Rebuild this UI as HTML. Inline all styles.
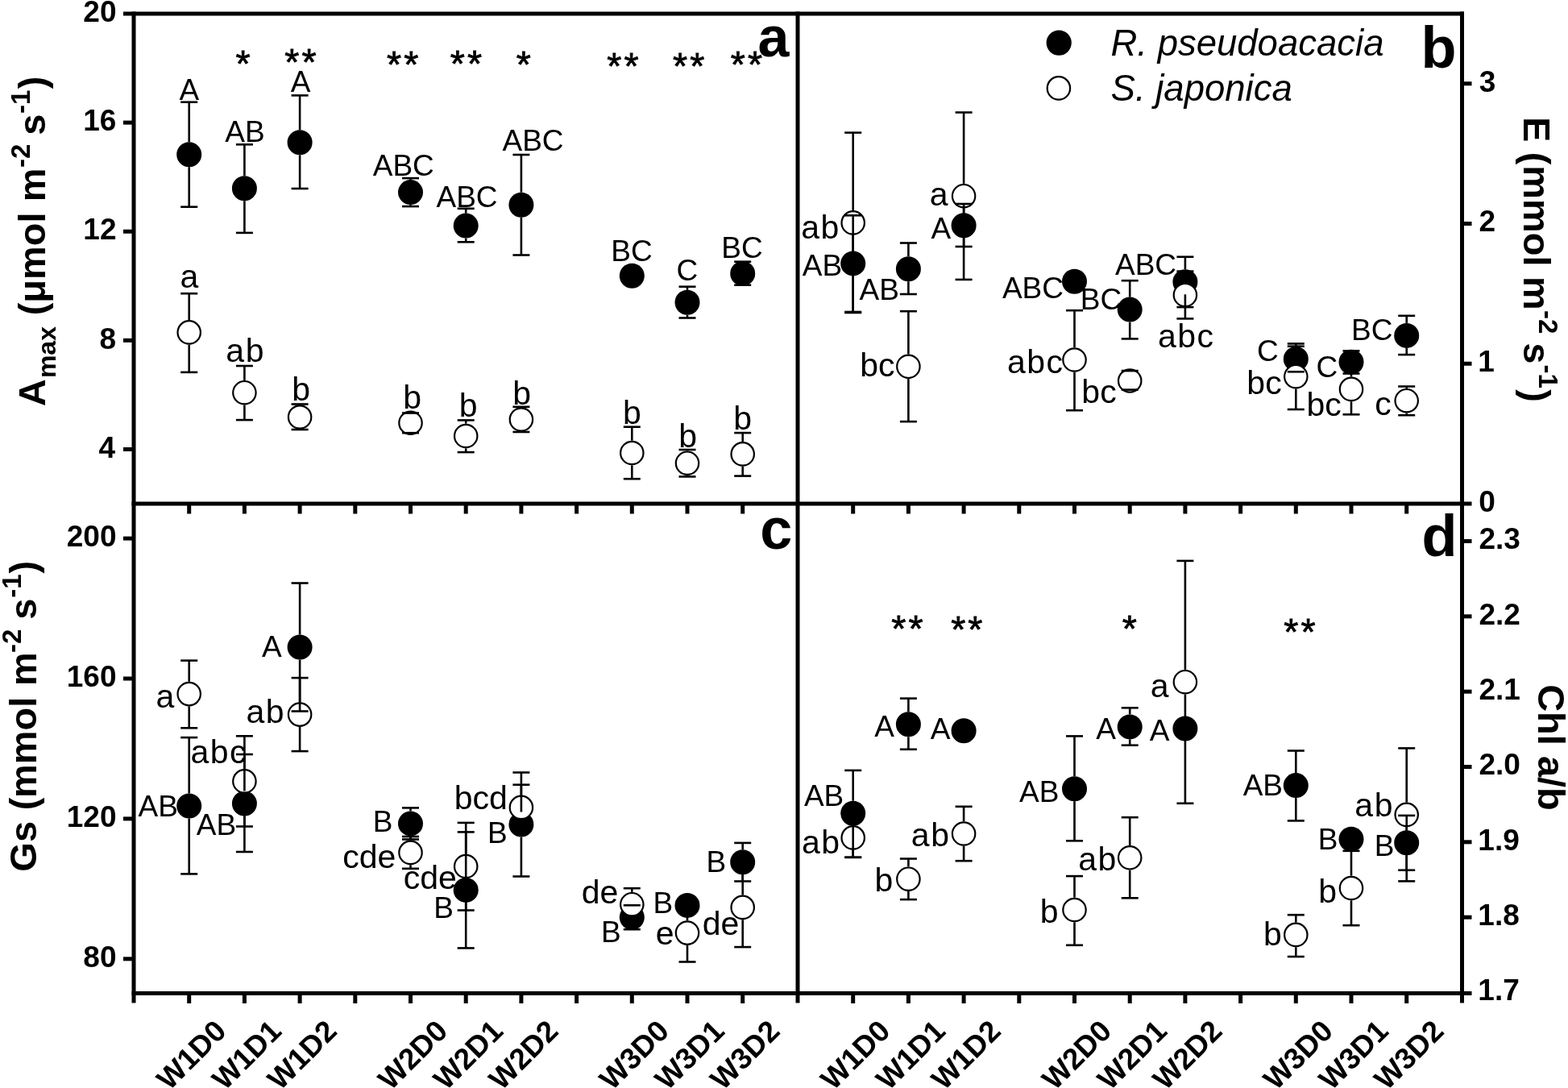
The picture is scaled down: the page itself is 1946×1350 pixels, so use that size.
<!DOCTYPE html>
<html><head><meta charset="utf-8"><title>Figure</title>
<style>html,body{margin:0;padding:0;background:#fff;}svg{display:block;}</style></head>
<body><svg width="1946" height="1350" viewBox="0 0 1946 1350" font-family="'Liberation Sans', sans-serif">
<rect width="1946" height="1350" fill="#fff"/>
<g stroke="#000" stroke-linecap="butt" fill="none">
<line x1="166.00" y1="14.50" x2="166.00" y2="1244.50" stroke-width="5.0"/>
<line x1="990.00" y1="14.50" x2="990.00" y2="1244.50" stroke-width="5.0"/>
<line x1="1814.50" y1="14.50" x2="1814.50" y2="1244.50" stroke-width="5.0"/>
<line x1="153.00" y1="17.00" x2="1817.00" y2="17.00" stroke-width="5.0"/>
<line x1="163.50" y1="625.00" x2="1826.50" y2="625.00" stroke-width="5.0"/>
<line x1="163.50" y1="1232.50" x2="1826.50" y2="1232.50" stroke-width="5.0"/>
<line x1="234.70" y1="625.00" x2="234.70" y2="637.50" stroke-width="5.0"/>
<line x1="234.70" y1="1232.50" x2="234.70" y2="1245.00" stroke-width="5.0"/>
<line x1="303.40" y1="625.00" x2="303.40" y2="637.50" stroke-width="5.0"/>
<line x1="303.40" y1="1232.50" x2="303.40" y2="1245.00" stroke-width="5.0"/>
<line x1="372.10" y1="625.00" x2="372.10" y2="637.50" stroke-width="5.0"/>
<line x1="372.10" y1="1232.50" x2="372.10" y2="1245.00" stroke-width="5.0"/>
<line x1="440.80" y1="625.00" x2="440.80" y2="637.50" stroke-width="5.0"/>
<line x1="440.80" y1="1232.50" x2="440.80" y2="1245.00" stroke-width="5.0"/>
<line x1="509.50" y1="625.00" x2="509.50" y2="637.50" stroke-width="5.0"/>
<line x1="509.50" y1="1232.50" x2="509.50" y2="1245.00" stroke-width="5.0"/>
<line x1="578.20" y1="625.00" x2="578.20" y2="637.50" stroke-width="5.0"/>
<line x1="578.20" y1="1232.50" x2="578.20" y2="1245.00" stroke-width="5.0"/>
<line x1="646.90" y1="625.00" x2="646.90" y2="637.50" stroke-width="5.0"/>
<line x1="646.90" y1="1232.50" x2="646.90" y2="1245.00" stroke-width="5.0"/>
<line x1="715.60" y1="625.00" x2="715.60" y2="637.50" stroke-width="5.0"/>
<line x1="715.60" y1="1232.50" x2="715.60" y2="1245.00" stroke-width="5.0"/>
<line x1="784.30" y1="625.00" x2="784.30" y2="637.50" stroke-width="5.0"/>
<line x1="784.30" y1="1232.50" x2="784.30" y2="1245.00" stroke-width="5.0"/>
<line x1="853.00" y1="625.00" x2="853.00" y2="637.50" stroke-width="5.0"/>
<line x1="853.00" y1="1232.50" x2="853.00" y2="1245.00" stroke-width="5.0"/>
<line x1="921.70" y1="625.00" x2="921.70" y2="637.50" stroke-width="5.0"/>
<line x1="921.70" y1="1232.50" x2="921.70" y2="1245.00" stroke-width="5.0"/>
<line x1="1058.70" y1="625.00" x2="1058.70" y2="637.50" stroke-width="5.0"/>
<line x1="1058.70" y1="1232.50" x2="1058.70" y2="1245.00" stroke-width="5.0"/>
<line x1="1127.40" y1="625.00" x2="1127.40" y2="637.50" stroke-width="5.0"/>
<line x1="1127.40" y1="1232.50" x2="1127.40" y2="1245.00" stroke-width="5.0"/>
<line x1="1196.10" y1="625.00" x2="1196.10" y2="637.50" stroke-width="5.0"/>
<line x1="1196.10" y1="1232.50" x2="1196.10" y2="1245.00" stroke-width="5.0"/>
<line x1="1264.80" y1="625.00" x2="1264.80" y2="637.50" stroke-width="5.0"/>
<line x1="1264.80" y1="1232.50" x2="1264.80" y2="1245.00" stroke-width="5.0"/>
<line x1="1333.50" y1="625.00" x2="1333.50" y2="637.50" stroke-width="5.0"/>
<line x1="1333.50" y1="1232.50" x2="1333.50" y2="1245.00" stroke-width="5.0"/>
<line x1="1402.20" y1="625.00" x2="1402.20" y2="637.50" stroke-width="5.0"/>
<line x1="1402.20" y1="1232.50" x2="1402.20" y2="1245.00" stroke-width="5.0"/>
<line x1="1470.90" y1="625.00" x2="1470.90" y2="637.50" stroke-width="5.0"/>
<line x1="1470.90" y1="1232.50" x2="1470.90" y2="1245.00" stroke-width="5.0"/>
<line x1="1539.60" y1="625.00" x2="1539.60" y2="637.50" stroke-width="5.0"/>
<line x1="1539.60" y1="1232.50" x2="1539.60" y2="1245.00" stroke-width="5.0"/>
<line x1="1608.30" y1="625.00" x2="1608.30" y2="637.50" stroke-width="5.0"/>
<line x1="1608.30" y1="1232.50" x2="1608.30" y2="1245.00" stroke-width="5.0"/>
<line x1="1677.00" y1="625.00" x2="1677.00" y2="637.50" stroke-width="5.0"/>
<line x1="1677.00" y1="1232.50" x2="1677.00" y2="1245.00" stroke-width="5.0"/>
<line x1="1745.70" y1="625.00" x2="1745.70" y2="637.50" stroke-width="5.0"/>
<line x1="1745.70" y1="1232.50" x2="1745.70" y2="1245.00" stroke-width="5.0"/>
<line x1="153.00" y1="152.12" x2="166.00" y2="152.12" stroke-width="5.0"/>
<line x1="153.00" y1="287.24" x2="166.00" y2="287.24" stroke-width="5.0"/>
<line x1="153.00" y1="422.36" x2="166.00" y2="422.36" stroke-width="5.0"/>
<line x1="153.00" y1="557.48" x2="166.00" y2="557.48" stroke-width="5.0"/>
<line x1="153.00" y1="668.10" x2="166.00" y2="668.10" stroke-width="5.0"/>
<line x1="153.00" y1="842.00" x2="166.00" y2="842.00" stroke-width="5.0"/>
<line x1="153.00" y1="1015.90" x2="166.00" y2="1015.90" stroke-width="5.0"/>
<line x1="153.00" y1="1189.80" x2="166.00" y2="1189.80" stroke-width="5.0"/>
<line x1="1814.50" y1="103.75" x2="1826.50" y2="103.75" stroke-width="5.0"/>
<line x1="1814.50" y1="277.50" x2="1826.50" y2="277.50" stroke-width="5.0"/>
<line x1="1814.50" y1="451.25" x2="1826.50" y2="451.25" stroke-width="5.0"/>
<line x1="1814.50" y1="671.50" x2="1826.50" y2="671.50" stroke-width="5.0"/>
<line x1="1814.50" y1="764.83" x2="1826.50" y2="764.83" stroke-width="5.0"/>
<line x1="1814.50" y1="858.16" x2="1826.50" y2="858.16" stroke-width="5.0"/>
<line x1="1814.50" y1="951.49" x2="1826.50" y2="951.49" stroke-width="5.0"/>
<line x1="1814.50" y1="1044.82" x2="1826.50" y2="1044.82" stroke-width="5.0"/>
<line x1="1814.50" y1="1138.15" x2="1826.50" y2="1138.15" stroke-width="5.0"/>
</g>
<g font-family="'Liberation Sans', sans-serif" fill="#000">
<text x="103.36" y="27.20" font-size="37" font-weight="bold">20</text>
<text x="103.18" y="162.32" font-size="37" font-weight="bold">16</text>
<text x="103.33" y="297.44" font-size="37" font-weight="bold">12</text>
<text x="123.56" y="432.56" font-size="37" font-weight="bold">8</text>
<text x="122.62" y="567.68" font-size="37" font-weight="bold">4</text>
<text x="82.78" y="678.30" font-size="37" font-weight="bold">200</text>
<text x="82.78" y="852.20" font-size="37" font-weight="bold">160</text>
<text x="82.78" y="1026.10" font-size="37" font-weight="bold">120</text>
<text x="103.36" y="1200.00" font-size="37" font-weight="bold">80</text>
<text x="1835.85" y="113.65" font-size="37" font-weight="bold">3</text>
<text x="1835.42" y="287.40" font-size="37" font-weight="bold">2</text>
<text x="1834.37" y="461.15" font-size="37" font-weight="bold">1</text>
<text x="1835.24" y="634.90" font-size="37" font-weight="bold">0</text>
<text x="1835.42" y="681.40" font-size="37" font-weight="bold">2.3</text>
<text x="1835.42" y="774.73" font-size="37" font-weight="bold">2.2</text>
<text x="1835.42" y="868.06" font-size="37" font-weight="bold">2.1</text>
<text x="1835.42" y="961.39" font-size="37" font-weight="bold">2.0</text>
<text x="1834.37" y="1054.72" font-size="37" font-weight="bold">1.9</text>
<text x="1834.37" y="1148.05" font-size="37" font-weight="bold">1.8</text>
<text x="1834.37" y="1241.38" font-size="37" font-weight="bold">1.7</text>
<text x="0" y="0" font-size="37" font-weight="bold" text-anchor="end" transform="translate(282.70,1281.50) rotate(-45)">W1D0</text>
<text x="0" y="0" font-size="37" font-weight="bold" text-anchor="end" transform="translate(351.40,1281.50) rotate(-45)">W1D1</text>
<text x="0" y="0" font-size="37" font-weight="bold" text-anchor="end" transform="translate(420.10,1281.50) rotate(-45)">W1D2</text>
<text x="0" y="0" font-size="37" font-weight="bold" text-anchor="end" transform="translate(557.50,1281.50) rotate(-45)">W2D0</text>
<text x="0" y="0" font-size="37" font-weight="bold" text-anchor="end" transform="translate(626.20,1281.50) rotate(-45)">W2D1</text>
<text x="0" y="0" font-size="37" font-weight="bold" text-anchor="end" transform="translate(694.90,1281.50) rotate(-45)">W2D2</text>
<text x="0" y="0" font-size="37" font-weight="bold" text-anchor="end" transform="translate(832.30,1281.50) rotate(-45)">W3D0</text>
<text x="0" y="0" font-size="37" font-weight="bold" text-anchor="end" transform="translate(901.00,1281.50) rotate(-45)">W3D1</text>
<text x="0" y="0" font-size="37" font-weight="bold" text-anchor="end" transform="translate(969.70,1281.50) rotate(-45)">W3D2</text>
<text x="0" y="0" font-size="37" font-weight="bold" text-anchor="end" transform="translate(1106.70,1281.50) rotate(-45)">W1D0</text>
<text x="0" y="0" font-size="37" font-weight="bold" text-anchor="end" transform="translate(1175.40,1281.50) rotate(-45)">W1D1</text>
<text x="0" y="0" font-size="37" font-weight="bold" text-anchor="end" transform="translate(1244.10,1281.50) rotate(-45)">W1D2</text>
<text x="0" y="0" font-size="37" font-weight="bold" text-anchor="end" transform="translate(1381.50,1281.50) rotate(-45)">W2D0</text>
<text x="0" y="0" font-size="37" font-weight="bold" text-anchor="end" transform="translate(1450.20,1281.50) rotate(-45)">W2D1</text>
<text x="0" y="0" font-size="37" font-weight="bold" text-anchor="end" transform="translate(1518.90,1281.50) rotate(-45)">W2D2</text>
<text x="0" y="0" font-size="37" font-weight="bold" text-anchor="end" transform="translate(1656.30,1281.50) rotate(-45)">W3D0</text>
<text x="0" y="0" font-size="37" font-weight="bold" text-anchor="end" transform="translate(1725.00,1281.50) rotate(-45)">W3D1</text>
<text x="0" y="0" font-size="37" font-weight="bold" text-anchor="end" transform="translate(1793.70,1281.50) rotate(-45)">W3D2</text>
</g>
<circle cx="234.70" cy="191.70" r="15.5" fill="#000"/>
<circle cx="303.40" cy="233.70" r="15.5" fill="#000"/>
<circle cx="372.10" cy="176.80" r="15.5" fill="#000"/>
<circle cx="509.50" cy="238.60" r="15.5" fill="#000"/>
<circle cx="578.20" cy="280.10" r="15.5" fill="#000"/>
<circle cx="646.90" cy="254.20" r="15.5" fill="#000"/>
<circle cx="784.30" cy="342.20" r="15.5" fill="#000"/>
<circle cx="853.00" cy="375.30" r="15.5" fill="#000"/>
<circle cx="921.70" cy="339.40" r="15.5" fill="#000"/>
<circle cx="234.70" cy="412.40" r="14.2" fill="#fff" stroke="#000" stroke-width="2.2"/>
<circle cx="303.40" cy="487.20" r="14.2" fill="#fff" stroke="#000" stroke-width="2.2"/>
<circle cx="372.10" cy="517.50" r="14.2" fill="#fff" stroke="#000" stroke-width="2.2"/>
<circle cx="509.50" cy="524.80" r="14.2" fill="#fff" stroke="#000" stroke-width="2.2"/>
<circle cx="578.20" cy="541.00" r="14.2" fill="#fff" stroke="#000" stroke-width="2.2"/>
<circle cx="646.90" cy="520.50" r="14.2" fill="#fff" stroke="#000" stroke-width="2.2"/>
<circle cx="784.30" cy="562.00" r="14.2" fill="#fff" stroke="#000" stroke-width="2.2"/>
<circle cx="853.00" cy="574.70" r="14.2" fill="#fff" stroke="#000" stroke-width="2.2"/>
<circle cx="921.70" cy="563.40" r="14.2" fill="#fff" stroke="#000" stroke-width="2.2"/>
<g stroke="#000" stroke-width="2.6">
<line x1="234.70" y1="126.70" x2="234.70" y2="176.20"/>
<line x1="234.70" y1="207.20" x2="234.70" y2="256.70"/>
<line x1="224.20" y1="126.70" x2="245.20" y2="126.70"/>
<line x1="224.20" y1="256.70" x2="245.20" y2="256.70"/>
<line x1="234.70" y1="364.20" x2="234.70" y2="397.10"/>
<line x1="234.70" y1="427.70" x2="234.70" y2="461.90"/>
<line x1="224.20" y1="364.20" x2="245.20" y2="364.20"/>
<line x1="224.20" y1="461.90" x2="245.20" y2="461.90"/>
<line x1="303.40" y1="179.30" x2="303.40" y2="218.20"/>
<line x1="303.40" y1="249.20" x2="303.40" y2="288.90"/>
<line x1="292.90" y1="179.30" x2="313.90" y2="179.30"/>
<line x1="292.90" y1="288.90" x2="313.90" y2="288.90"/>
<line x1="303.40" y1="454.00" x2="303.40" y2="471.90"/>
<line x1="303.40" y1="502.50" x2="303.40" y2="521.10"/>
<line x1="292.90" y1="454.00" x2="313.90" y2="454.00"/>
<line x1="292.90" y1="521.10" x2="313.90" y2="521.10"/>
<line x1="372.10" y1="118.40" x2="372.10" y2="161.30"/>
<line x1="372.10" y1="192.30" x2="372.10" y2="234.00"/>
<line x1="361.60" y1="118.40" x2="382.60" y2="118.40"/>
<line x1="361.60" y1="234.00" x2="382.60" y2="234.00"/>
<line x1="372.10" y1="501.50" x2="372.10" y2="502.20"/>
<line x1="372.10" y1="532.80" x2="372.10" y2="533.00"/>
<line x1="361.60" y1="501.50" x2="382.60" y2="501.50"/>
<line x1="361.60" y1="533.00" x2="382.60" y2="533.00"/>
<line x1="509.50" y1="221.10" x2="509.50" y2="223.10"/>
<line x1="509.50" y1="254.10" x2="509.50" y2="256.10"/>
<line x1="499.00" y1="221.10" x2="520.00" y2="221.10"/>
<line x1="499.00" y1="256.10" x2="520.00" y2="256.10"/>
<line x1="499.00" y1="512.50" x2="520.00" y2="512.50"/>
<line x1="499.00" y1="537.20" x2="520.00" y2="537.20"/>
<line x1="578.20" y1="258.80" x2="578.20" y2="264.60"/>
<line x1="578.20" y1="295.60" x2="578.20" y2="300.30"/>
<line x1="567.70" y1="258.80" x2="588.70" y2="258.80"/>
<line x1="567.70" y1="300.30" x2="588.70" y2="300.30"/>
<line x1="578.20" y1="521.40" x2="578.20" y2="525.70"/>
<line x1="578.20" y1="556.30" x2="578.20" y2="561.10"/>
<line x1="567.70" y1="521.40" x2="588.70" y2="521.40"/>
<line x1="567.70" y1="561.10" x2="588.70" y2="561.10"/>
<line x1="646.90" y1="192.00" x2="646.90" y2="238.70"/>
<line x1="646.90" y1="269.70" x2="646.90" y2="316.50"/>
<line x1="636.40" y1="192.00" x2="657.40" y2="192.00"/>
<line x1="636.40" y1="316.50" x2="657.40" y2="316.50"/>
<line x1="646.90" y1="504.80" x2="646.90" y2="505.20"/>
<line x1="646.90" y1="535.80" x2="646.90" y2="536.00"/>
<line x1="636.40" y1="504.80" x2="657.40" y2="504.80"/>
<line x1="636.40" y1="536.00" x2="657.40" y2="536.00"/>
<line x1="784.30" y1="529.70" x2="784.30" y2="546.70"/>
<line x1="784.30" y1="577.30" x2="784.30" y2="594.20"/>
<line x1="773.80" y1="529.70" x2="794.80" y2="529.70"/>
<line x1="773.80" y1="594.20" x2="794.80" y2="594.20"/>
<line x1="853.00" y1="355.70" x2="853.00" y2="359.80"/>
<line x1="853.00" y1="390.80" x2="853.00" y2="394.50"/>
<line x1="842.50" y1="355.70" x2="863.50" y2="355.70"/>
<line x1="842.50" y1="394.50" x2="863.50" y2="394.50"/>
<line x1="853.00" y1="558.00" x2="853.00" y2="559.40"/>
<line x1="853.00" y1="590.00" x2="853.00" y2="591.40"/>
<line x1="842.50" y1="558.00" x2="863.50" y2="558.00"/>
<line x1="842.50" y1="591.40" x2="863.50" y2="591.40"/>
<line x1="911.20" y1="324.70" x2="932.20" y2="324.70"/>
<line x1="911.20" y1="353.70" x2="932.20" y2="353.70"/>
<line x1="921.70" y1="537.10" x2="921.70" y2="548.10"/>
<line x1="921.70" y1="578.70" x2="921.70" y2="590.60"/>
<line x1="911.20" y1="537.10" x2="932.20" y2="537.10"/>
<line x1="911.20" y1="590.60" x2="932.20" y2="590.60"/>
</g>
<circle cx="1058.70" cy="326.90" r="15.5" fill="#000"/>
<circle cx="1127.40" cy="333.70" r="15.5" fill="#000"/>
<circle cx="1196.10" cy="279.70" r="15.5" fill="#000"/>
<circle cx="1333.50" cy="349.20" r="15.5" fill="#000"/>
<circle cx="1402.20" cy="384.10" r="15.5" fill="#000"/>
<circle cx="1470.90" cy="349.80" r="15.5" fill="#000"/>
<circle cx="1608.30" cy="445.50" r="15.5" fill="#000"/>
<circle cx="1677.00" cy="449.30" r="15.5" fill="#000"/>
<circle cx="1745.70" cy="416.40" r="15.5" fill="#000"/>
<circle cx="1058.70" cy="276.40" r="14.2" fill="#fff" stroke="#000" stroke-width="2.2"/>
<circle cx="1127.40" cy="454.80" r="14.2" fill="#fff" stroke="#000" stroke-width="2.2"/>
<circle cx="1196.10" cy="243.20" r="14.2" fill="#fff" stroke="#000" stroke-width="2.2"/>
<circle cx="1333.50" cy="446.50" r="14.2" fill="#fff" stroke="#000" stroke-width="2.2"/>
<circle cx="1402.20" cy="472.50" r="14.2" fill="#fff" stroke="#000" stroke-width="2.2"/>
<circle cx="1470.90" cy="366.00" r="14.2" fill="#fff" stroke="#000" stroke-width="2.2"/>
<circle cx="1608.30" cy="467.20" r="14.2" fill="#fff" stroke="#000" stroke-width="2.2"/>
<circle cx="1677.00" cy="482.90" r="14.2" fill="#fff" stroke="#000" stroke-width="2.2"/>
<circle cx="1745.70" cy="497.20" r="14.2" fill="#fff" stroke="#000" stroke-width="2.2"/>
<g stroke="#000" stroke-width="2.6">
<line x1="1058.70" y1="267.30" x2="1058.70" y2="311.40"/>
<line x1="1058.70" y1="342.40" x2="1058.70" y2="387.00"/>
<line x1="1048.20" y1="267.30" x2="1069.20" y2="267.30"/>
<line x1="1048.20" y1="387.00" x2="1069.20" y2="387.00"/>
<line x1="1058.70" y1="164.60" x2="1058.70" y2="261.10"/>
<line x1="1058.70" y1="291.70" x2="1058.70" y2="388.00"/>
<line x1="1048.20" y1="164.60" x2="1069.20" y2="164.60"/>
<line x1="1048.20" y1="388.00" x2="1069.20" y2="388.00"/>
<line x1="1127.40" y1="301.50" x2="1127.40" y2="318.20"/>
<line x1="1127.40" y1="349.20" x2="1127.40" y2="365.00"/>
<line x1="1116.90" y1="301.50" x2="1137.90" y2="301.50"/>
<line x1="1116.90" y1="365.00" x2="1137.90" y2="365.00"/>
<line x1="1127.40" y1="386.20" x2="1127.40" y2="439.50"/>
<line x1="1127.40" y1="470.10" x2="1127.40" y2="523.10"/>
<line x1="1116.90" y1="386.20" x2="1137.90" y2="386.20"/>
<line x1="1116.90" y1="523.10" x2="1137.90" y2="523.10"/>
<line x1="1196.10" y1="253.00" x2="1196.10" y2="264.20"/>
<line x1="1196.10" y1="295.20" x2="1196.10" y2="306.00"/>
<line x1="1185.60" y1="253.00" x2="1206.60" y2="253.00"/>
<line x1="1185.60" y1="306.00" x2="1206.60" y2="306.00"/>
<line x1="1196.10" y1="139.50" x2="1196.10" y2="227.90"/>
<line x1="1196.10" y1="258.50" x2="1196.10" y2="346.90"/>
<line x1="1185.60" y1="139.50" x2="1206.60" y2="139.50"/>
<line x1="1185.60" y1="346.90" x2="1206.60" y2="346.90"/>
<line x1="1333.50" y1="385.20" x2="1333.50" y2="431.20"/>
<line x1="1333.50" y1="461.80" x2="1333.50" y2="509.20"/>
<line x1="1323.00" y1="385.20" x2="1344.00" y2="385.20"/>
<line x1="1323.00" y1="509.20" x2="1344.00" y2="509.20"/>
<line x1="1402.20" y1="348.20" x2="1402.20" y2="368.60"/>
<line x1="1402.20" y1="399.60" x2="1402.20" y2="420.40"/>
<line x1="1391.70" y1="348.20" x2="1412.70" y2="348.20"/>
<line x1="1391.70" y1="420.40" x2="1412.70" y2="420.40"/>
<line x1="1391.70" y1="460.10" x2="1412.70" y2="460.10"/>
<line x1="1391.70" y1="483.60" x2="1412.70" y2="483.60"/>
<line x1="1470.90" y1="318.70" x2="1470.90" y2="334.30"/>
<line x1="1470.90" y1="365.30" x2="1470.90" y2="381.10"/>
<line x1="1460.40" y1="318.70" x2="1481.40" y2="318.70"/>
<line x1="1460.40" y1="381.10" x2="1481.40" y2="381.10"/>
<line x1="1470.90" y1="336.60" x2="1470.90" y2="350.70"/>
<line x1="1470.90" y1="381.30" x2="1470.90" y2="395.40"/>
<line x1="1460.40" y1="336.60" x2="1481.40" y2="336.60"/>
<line x1="1460.40" y1="395.40" x2="1481.40" y2="395.40"/>
<line x1="1608.30" y1="429.70" x2="1608.30" y2="430.00"/>
<line x1="1608.30" y1="461.00" x2="1608.30" y2="461.30"/>
<line x1="1597.80" y1="429.70" x2="1618.80" y2="429.70"/>
<line x1="1597.80" y1="461.30" x2="1618.80" y2="461.30"/>
<line x1="1608.30" y1="426.40" x2="1608.30" y2="451.90"/>
<line x1="1608.30" y1="482.50" x2="1608.30" y2="508.00"/>
<line x1="1597.80" y1="426.40" x2="1618.80" y2="426.40"/>
<line x1="1597.80" y1="508.00" x2="1618.80" y2="508.00"/>
<line x1="1666.50" y1="435.40" x2="1687.50" y2="435.40"/>
<line x1="1666.50" y1="463.50" x2="1687.50" y2="463.50"/>
<line x1="1677.00" y1="451.50" x2="1677.00" y2="467.60"/>
<line x1="1677.00" y1="498.20" x2="1677.00" y2="514.30"/>
<line x1="1666.50" y1="451.50" x2="1687.50" y2="451.50"/>
<line x1="1666.50" y1="514.30" x2="1687.50" y2="514.30"/>
<line x1="1745.70" y1="391.80" x2="1745.70" y2="400.90"/>
<line x1="1745.70" y1="431.90" x2="1745.70" y2="440.10"/>
<line x1="1735.20" y1="391.80" x2="1756.20" y2="391.80"/>
<line x1="1735.20" y1="440.10" x2="1756.20" y2="440.10"/>
<line x1="1745.70" y1="479.50" x2="1745.70" y2="481.90"/>
<line x1="1745.70" y1="512.50" x2="1745.70" y2="515.20"/>
<line x1="1735.20" y1="479.50" x2="1756.20" y2="479.50"/>
<line x1="1735.20" y1="515.20" x2="1756.20" y2="515.20"/>
</g>
<circle cx="234.70" cy="1000.00" r="15.5" fill="#000"/>
<circle cx="303.40" cy="997.00" r="15.5" fill="#000"/>
<circle cx="372.10" cy="803.00" r="15.5" fill="#000"/>
<circle cx="509.50" cy="1021.90" r="15.5" fill="#000"/>
<circle cx="578.20" cy="1104.40" r="15.5" fill="#000"/>
<circle cx="646.90" cy="1023.00" r="15.5" fill="#000"/>
<circle cx="784.30" cy="1138.30" r="15.5" fill="#000"/>
<circle cx="853.00" cy="1123.40" r="15.5" fill="#000"/>
<circle cx="921.70" cy="1069.80" r="15.5" fill="#000"/>
<circle cx="234.70" cy="861.10" r="14.2" fill="#fff" stroke="#000" stroke-width="2.2"/>
<circle cx="303.40" cy="969.40" r="14.2" fill="#fff" stroke="#000" stroke-width="2.2"/>
<circle cx="372.10" cy="886.60" r="14.2" fill="#fff" stroke="#000" stroke-width="2.2"/>
<circle cx="509.50" cy="1057.90" r="14.2" fill="#fff" stroke="#000" stroke-width="2.2"/>
<circle cx="578.20" cy="1075.00" r="14.2" fill="#fff" stroke="#000" stroke-width="2.2"/>
<circle cx="646.90" cy="1001.90" r="14.2" fill="#fff" stroke="#000" stroke-width="2.2"/>
<circle cx="784.30" cy="1122.20" r="14.2" fill="#fff" stroke="#000" stroke-width="2.2"/>
<circle cx="853.00" cy="1157.60" r="14.2" fill="#fff" stroke="#000" stroke-width="2.2"/>
<circle cx="921.70" cy="1125.90" r="14.2" fill="#fff" stroke="#000" stroke-width="2.2"/>
<g stroke="#000" stroke-width="2.6">
<line x1="234.70" y1="915.10" x2="234.70" y2="984.50"/>
<line x1="234.70" y1="1015.50" x2="234.70" y2="1084.40"/>
<line x1="224.20" y1="915.10" x2="245.20" y2="915.10"/>
<line x1="224.20" y1="1084.40" x2="245.20" y2="1084.40"/>
<line x1="234.70" y1="819.60" x2="234.70" y2="845.80"/>
<line x1="234.70" y1="876.40" x2="234.70" y2="903.30"/>
<line x1="224.20" y1="819.60" x2="245.20" y2="819.60"/>
<line x1="224.20" y1="903.30" x2="245.20" y2="903.30"/>
<line x1="303.40" y1="936.00" x2="303.40" y2="981.50"/>
<line x1="303.40" y1="1012.50" x2="303.40" y2="1057.00"/>
<line x1="292.90" y1="936.00" x2="313.90" y2="936.00"/>
<line x1="292.90" y1="1057.00" x2="313.90" y2="1057.00"/>
<line x1="303.40" y1="913.30" x2="303.40" y2="954.10"/>
<line x1="303.40" y1="984.70" x2="303.40" y2="1025.50"/>
<line x1="292.90" y1="913.30" x2="313.90" y2="913.30"/>
<line x1="292.90" y1="1025.50" x2="313.90" y2="1025.50"/>
<line x1="372.10" y1="723.50" x2="372.10" y2="787.50"/>
<line x1="372.10" y1="818.50" x2="372.10" y2="882.50"/>
<line x1="361.60" y1="723.50" x2="382.60" y2="723.50"/>
<line x1="361.60" y1="882.50" x2="382.60" y2="882.50"/>
<line x1="372.10" y1="841.10" x2="372.10" y2="871.30"/>
<line x1="372.10" y1="901.90" x2="372.10" y2="932.10"/>
<line x1="361.60" y1="841.10" x2="382.60" y2="841.10"/>
<line x1="361.60" y1="932.10" x2="382.60" y2="932.10"/>
<line x1="509.50" y1="1002.40" x2="509.50" y2="1006.40"/>
<line x1="509.50" y1="1037.40" x2="509.50" y2="1041.50"/>
<line x1="499.00" y1="1002.40" x2="520.00" y2="1002.40"/>
<line x1="499.00" y1="1041.50" x2="520.00" y2="1041.50"/>
<line x1="509.50" y1="1038.00" x2="509.50" y2="1042.60"/>
<line x1="509.50" y1="1073.20" x2="509.50" y2="1077.80"/>
<line x1="499.00" y1="1038.00" x2="520.00" y2="1038.00"/>
<line x1="499.00" y1="1077.80" x2="520.00" y2="1077.80"/>
<line x1="578.20" y1="1032.40" x2="578.20" y2="1088.90"/>
<line x1="578.20" y1="1119.90" x2="578.20" y2="1176.40"/>
<line x1="567.70" y1="1032.40" x2="588.70" y2="1032.40"/>
<line x1="567.70" y1="1176.40" x2="588.70" y2="1176.40"/>
<line x1="578.20" y1="1020.90" x2="578.20" y2="1059.70"/>
<line x1="578.20" y1="1090.30" x2="578.20" y2="1129.50"/>
<line x1="567.70" y1="1020.90" x2="588.70" y2="1020.90"/>
<line x1="567.70" y1="1129.50" x2="588.70" y2="1129.50"/>
<line x1="646.90" y1="958.50" x2="646.90" y2="1007.50"/>
<line x1="646.90" y1="1038.50" x2="646.90" y2="1087.50"/>
<line x1="636.40" y1="958.50" x2="657.40" y2="958.50"/>
<line x1="636.40" y1="1087.50" x2="657.40" y2="1087.50"/>
<line x1="646.90" y1="973.70" x2="646.90" y2="986.60"/>
<line x1="646.90" y1="1017.20" x2="646.90" y2="1030.10"/>
<line x1="636.40" y1="973.70" x2="657.40" y2="973.70"/>
<line x1="636.40" y1="1030.10" x2="657.40" y2="1030.10"/>
<line x1="773.80" y1="1123.30" x2="794.80" y2="1123.30"/>
<line x1="773.80" y1="1153.20" x2="794.80" y2="1153.20"/>
<line x1="784.30" y1="1102.20" x2="784.30" y2="1106.90"/>
<line x1="784.30" y1="1137.50" x2="784.30" y2="1142.20"/>
<line x1="773.80" y1="1102.20" x2="794.80" y2="1102.20"/>
<line x1="773.80" y1="1142.20" x2="794.80" y2="1142.20"/>
<line x1="853.00" y1="1121.70" x2="853.00" y2="1142.30"/>
<line x1="853.00" y1="1172.90" x2="853.00" y2="1193.50"/>
<line x1="842.50" y1="1121.70" x2="863.50" y2="1121.70"/>
<line x1="842.50" y1="1193.50" x2="863.50" y2="1193.50"/>
<line x1="921.70" y1="1045.90" x2="921.70" y2="1054.30"/>
<line x1="921.70" y1="1085.30" x2="921.70" y2="1093.50"/>
<line x1="911.20" y1="1045.90" x2="932.20" y2="1045.90"/>
<line x1="911.20" y1="1093.50" x2="932.20" y2="1093.50"/>
<line x1="921.70" y1="1076.70" x2="921.70" y2="1110.60"/>
<line x1="921.70" y1="1141.20" x2="921.70" y2="1175.10"/>
<line x1="911.20" y1="1076.70" x2="932.20" y2="1076.70"/>
<line x1="911.20" y1="1175.10" x2="932.20" y2="1175.10"/>
</g>
<circle cx="1058.70" cy="1009.20" r="15.5" fill="#000"/>
<circle cx="1127.40" cy="898.80" r="15.5" fill="#000"/>
<circle cx="1196.10" cy="906.80" r="15.5" fill="#000"/>
<circle cx="1333.50" cy="978.70" r="15.5" fill="#000"/>
<circle cx="1402.20" cy="901.90" r="15.5" fill="#000"/>
<circle cx="1470.90" cy="904.00" r="15.5" fill="#000"/>
<circle cx="1608.30" cy="974.60" r="15.5" fill="#000"/>
<circle cx="1677.00" cy="1041.20" r="15.5" fill="#000"/>
<circle cx="1745.70" cy="1045.80" r="15.5" fill="#000"/>
<circle cx="1058.70" cy="1039.40" r="14.2" fill="#fff" stroke="#000" stroke-width="2.2"/>
<circle cx="1127.40" cy="1090.70" r="14.2" fill="#fff" stroke="#000" stroke-width="2.2"/>
<circle cx="1196.10" cy="1034.50" r="14.2" fill="#fff" stroke="#000" stroke-width="2.2"/>
<circle cx="1333.50" cy="1129.00" r="14.2" fill="#fff" stroke="#000" stroke-width="2.2"/>
<circle cx="1402.20" cy="1064.30" r="14.2" fill="#fff" stroke="#000" stroke-width="2.2"/>
<circle cx="1470.90" cy="846.20" r="14.2" fill="#fff" stroke="#000" stroke-width="2.2"/>
<circle cx="1608.30" cy="1159.90" r="14.2" fill="#fff" stroke="#000" stroke-width="2.2"/>
<circle cx="1677.00" cy="1102.00" r="14.2" fill="#fff" stroke="#000" stroke-width="2.2"/>
<circle cx="1745.70" cy="1010.90" r="14.2" fill="#fff" stroke="#000" stroke-width="2.2"/>
<g stroke="#000" stroke-width="2.6">
<line x1="1058.70" y1="955.90" x2="1058.70" y2="993.70"/>
<line x1="1058.70" y1="1024.70" x2="1058.70" y2="1063.70"/>
<line x1="1048.20" y1="955.90" x2="1069.20" y2="955.90"/>
<line x1="1048.20" y1="1063.70" x2="1069.20" y2="1063.70"/>
<line x1="1058.70" y1="1014.90" x2="1058.70" y2="1024.10"/>
<line x1="1058.70" y1="1054.70" x2="1058.70" y2="1063.90"/>
<line x1="1048.20" y1="1014.90" x2="1069.20" y2="1014.90"/>
<line x1="1048.20" y1="1063.90" x2="1069.20" y2="1063.90"/>
<line x1="1127.40" y1="866.60" x2="1127.40" y2="883.30"/>
<line x1="1127.40" y1="914.30" x2="1127.40" y2="929.80"/>
<line x1="1116.90" y1="866.60" x2="1137.90" y2="866.60"/>
<line x1="1116.90" y1="929.80" x2="1137.90" y2="929.80"/>
<line x1="1127.40" y1="1065.50" x2="1127.40" y2="1075.40"/>
<line x1="1127.40" y1="1106.00" x2="1127.40" y2="1116.10"/>
<line x1="1116.90" y1="1065.50" x2="1137.90" y2="1065.50"/>
<line x1="1116.90" y1="1116.10" x2="1137.90" y2="1116.10"/>
<line x1="1196.10" y1="1000.80" x2="1196.10" y2="1019.20"/>
<line x1="1196.10" y1="1049.80" x2="1196.10" y2="1068.20"/>
<line x1="1185.60" y1="1000.80" x2="1206.60" y2="1000.80"/>
<line x1="1185.60" y1="1068.20" x2="1206.60" y2="1068.20"/>
<line x1="1333.50" y1="913.40" x2="1333.50" y2="963.20"/>
<line x1="1333.50" y1="994.20" x2="1333.50" y2="1043.30"/>
<line x1="1323.00" y1="913.40" x2="1344.00" y2="913.40"/>
<line x1="1323.00" y1="1043.30" x2="1344.00" y2="1043.30"/>
<line x1="1333.50" y1="1087.10" x2="1333.50" y2="1113.70"/>
<line x1="1333.50" y1="1144.30" x2="1333.50" y2="1172.80"/>
<line x1="1323.00" y1="1087.10" x2="1344.00" y2="1087.10"/>
<line x1="1323.00" y1="1172.80" x2="1344.00" y2="1172.80"/>
<line x1="1402.20" y1="878.30" x2="1402.20" y2="886.40"/>
<line x1="1402.20" y1="917.40" x2="1402.20" y2="924.70"/>
<line x1="1391.70" y1="878.30" x2="1412.70" y2="878.30"/>
<line x1="1391.70" y1="924.70" x2="1412.70" y2="924.70"/>
<line x1="1402.20" y1="1014.20" x2="1402.20" y2="1049.00"/>
<line x1="1402.20" y1="1079.60" x2="1402.20" y2="1114.30"/>
<line x1="1391.70" y1="1014.20" x2="1412.70" y2="1014.20"/>
<line x1="1391.70" y1="1114.30" x2="1412.70" y2="1114.30"/>
<line x1="1470.90" y1="695.90" x2="1470.90" y2="830.90"/>
<line x1="1470.90" y1="861.50" x2="1470.90" y2="996.80"/>
<line x1="1460.40" y1="695.90" x2="1481.40" y2="695.90"/>
<line x1="1460.40" y1="996.80" x2="1481.40" y2="996.80"/>
<line x1="1608.30" y1="931.50" x2="1608.30" y2="959.10"/>
<line x1="1608.30" y1="990.10" x2="1608.30" y2="1018.40"/>
<line x1="1597.80" y1="931.50" x2="1618.80" y2="931.50"/>
<line x1="1597.80" y1="1018.40" x2="1618.80" y2="1018.40"/>
<line x1="1608.30" y1="1135.20" x2="1608.30" y2="1144.60"/>
<line x1="1608.30" y1="1175.20" x2="1608.30" y2="1187.00"/>
<line x1="1597.80" y1="1135.20" x2="1618.80" y2="1135.20"/>
<line x1="1597.80" y1="1187.00" x2="1618.80" y2="1187.00"/>
<line x1="1677.00" y1="1055.80" x2="1677.00" y2="1086.70"/>
<line x1="1677.00" y1="1117.30" x2="1677.00" y2="1148.20"/>
<line x1="1666.50" y1="1055.80" x2="1687.50" y2="1055.80"/>
<line x1="1666.50" y1="1148.20" x2="1687.50" y2="1148.20"/>
<line x1="1745.70" y1="1011.90" x2="1745.70" y2="1030.30"/>
<line x1="1745.70" y1="1061.30" x2="1745.70" y2="1079.70"/>
<line x1="1735.20" y1="1011.90" x2="1756.20" y2="1011.90"/>
<line x1="1735.20" y1="1079.70" x2="1756.20" y2="1079.70"/>
<line x1="1745.70" y1="928.40" x2="1745.70" y2="995.60"/>
<line x1="1745.70" y1="1026.20" x2="1745.70" y2="1093.40"/>
<line x1="1735.20" y1="928.40" x2="1756.20" y2="928.40"/>
<line x1="1735.20" y1="1093.40" x2="1756.20" y2="1093.40"/>
</g>
<g font-family="'Liberation Sans', sans-serif" fill="#000">
<text x="222.56" y="124.40" font-size="37">A</text>
<text x="279.23" y="176.20" font-size="37">AB</text>
<text x="360.86" y="114.40" font-size="37">A</text>
<text x="462.73" y="218.40" font-size="37">ABC</text>
<text x="541.53" y="256.80" font-size="37">ABC</text>
<text x="623.53" y="187.30" font-size="37">ABC</text>
<text x="758.26" y="323.60" font-size="37">BC</text>
<text x="839.61" y="348.10" font-size="37">C</text>
<text x="895.26" y="320.00" font-size="37">BC</text>
<text x="223.43" y="356.90" font-size="41">a</text>
<text x="280.36" y="449.30" font-size="41" letter-spacing="1.5">ab</text>
<text x="362.14" y="496.70" font-size="41">b</text>
<text x="500.34" y="507.30" font-size="41">b</text>
<text x="569.64" y="517.20" font-size="41">b</text>
<text x="636.14" y="501.50" font-size="41">b</text>
<text x="772.94" y="525.80" font-size="41">b</text>
<text x="842.34" y="554.60" font-size="41">b</text>
<text x="910.14" y="532.90" font-size="41">b</text>
<text x="994.16" y="296.00" font-size="41" letter-spacing="1.5">ab</text>
<text x="995.83" y="341.60" font-size="37">AB</text>
<text x="1066.53" y="371.50" font-size="37">AB</text>
<text x="1067.16" y="467.00" font-size="41">bc</text>
<text x="1153.76" y="255.20" font-size="41">a</text>
<text x="1155.43" y="296.00" font-size="37">A</text>
<text x="1243.93" y="369.50" font-size="37">ABC</text>
<text x="1249.96" y="462.90" font-size="41" letter-spacing="1.5">abc</text>
<text x="1340.76" y="384.30" font-size="37">BC</text>
<text x="1342.36" y="500.10" font-size="41">bc</text>
<text x="1384.03" y="340.90" font-size="37">ABC</text>
<text x="1436.96" y="431.20" font-size="41" letter-spacing="1.5">abc</text>
<text x="1560.12" y="447.50" font-size="37">C</text>
<text x="1547.36" y="488.90" font-size="41">bc</text>
<text x="1633.62" y="468.20" font-size="37">C</text>
<text x="1621.56" y="516.30" font-size="41">bc</text>
<text x="1676.96" y="422.10" font-size="37">BC</text>
<text x="1706.26" y="515.20" font-size="41">c</text>
<text x="193.56" y="877.80" font-size="41">a</text>
<text x="171.53" y="1013.30" font-size="37">AB</text>
<text x="236.46" y="947.10" font-size="41" letter-spacing="1.5">abc</text>
<text x="243.73" y="1035.60" font-size="37">AB</text>
<text x="324.93" y="814.60" font-size="37">A</text>
<text x="305.42" y="897.40" font-size="41" letter-spacing="1.5">ab</text>
<text x="462.86" y="1031.50" font-size="37">B</text>
<text x="425.26" y="1077.40" font-size="41">cde</text>
<text x="500.66" y="1102.80" font-size="41">cde</text>
<text x="538.26" y="1138.90" font-size="37">B</text>
<text x="563.66" y="1004.10" font-size="41">bcd</text>
<text x="604.96" y="1046.30" font-size="37">B</text>
<text x="721.72" y="1120.60" font-size="41">de</text>
<text x="745.96" y="1168.60" font-size="37">B</text>
<text x="810.46" y="1133.00" font-size="37">B</text>
<text x="813.86" y="1171.50" font-size="41">e</text>
<text x="876.46" y="1081.50" font-size="37">B</text>
<text x="871.68" y="1160.30" font-size="41">de</text>
<text x="997.93" y="999.90" font-size="37">AB</text>
<text x="995.02" y="1058.90" font-size="41" letter-spacing="1.5">ab</text>
<text x="1085.33" y="913.80" font-size="37">A</text>
<text x="1085.46" y="1105.60" font-size="41">b</text>
<text x="1154.63" y="917.20" font-size="37">A</text>
<text x="1130.86" y="1050.30" font-size="41" letter-spacing="1.5">ab</text>
<text x="1265.03" y="995.30" font-size="37">AB</text>
<text x="1290.76" y="1144.50" font-size="41">b</text>
<text x="1360.23" y="917.20" font-size="37">A</text>
<text x="1338.16" y="1080.30" font-size="41" letter-spacing="1.5">ab</text>
<text x="1427.66" y="865.00" font-size="41">a</text>
<text x="1426.63" y="918.70" font-size="37">A</text>
<text x="1542.63" y="987.00" font-size="37">AB</text>
<text x="1568.06" y="1172.70" font-size="41">b</text>
<text x="1635.76" y="1054.10" font-size="37">B</text>
<text x="1636.16" y="1119.90" font-size="41">b</text>
<text x="1681.36" y="1012.60" font-size="41" letter-spacing="1.5">ab</text>
<text x="1705.66" y="1062.00" font-size="37">B</text>
<text x="292.45" y="95.27" font-size="46.5" stroke="#000" stroke-width="0.8">*</text>
<text x="353.25" y="93.07" font-size="46.5" letter-spacing="3.1" stroke="#000" stroke-width="0.8">**</text>
<text x="479.95" y="95.77" font-size="46.5" letter-spacing="3.1" stroke="#000" stroke-width="0.8">**</text>
<text x="558.85" y="95.37" font-size="46.5" letter-spacing="3.1" stroke="#000" stroke-width="0.8">**</text>
<text x="640.75" y="95.77" font-size="46.5" stroke="#000" stroke-width="0.8">*</text>
<text x="753.35" y="98.17" font-size="46.5" letter-spacing="3.1" stroke="#000" stroke-width="0.8">**</text>
<text x="835.05" y="98.47" font-size="46.5" letter-spacing="3.1" stroke="#000" stroke-width="0.8">**</text>
<text x="906.85" y="96.47" font-size="46.5" letter-spacing="3.1" stroke="#000" stroke-width="0.8">**</text>
<text x="1106.35" y="796.17" font-size="46.5" letter-spacing="3.1" stroke="#000" stroke-width="0.8">**</text>
<text x="1180.15" y="796.97" font-size="46.5" letter-spacing="3.1" stroke="#000" stroke-width="0.8">**</text>
<text x="1392.65" y="795.87" font-size="46.5" stroke="#000" stroke-width="0.8">*</text>
<text x="1593.35" y="800.37" font-size="46.5" letter-spacing="3.1" stroke="#000" stroke-width="0.8">**</text>
<text x="940.62" y="70.40" font-size="70" font-weight="bold">a</text>
<text x="1763.47" y="83.98" font-size="72" font-weight="bold">b</text>
<text x="943.27" y="681.48" font-size="72" font-weight="bold">c</text>
<text x="1764.47" y="689.68" font-size="72" font-weight="bold">d</text>
<circle cx="1314.2" cy="53.1" r="15.6" fill="#000"/>
<circle cx="1313.9" cy="109.4" r="14.2" fill="#fff" stroke="#000" stroke-width="2.2"/>
<text x="1378.50" y="68.80" font-size="45.5" font-style="italic">R. pseudoacacia</text>
<text x="1378.61" y="124.90" font-size="45.5" font-style="italic">S. japonica</text>
<text transform="translate(1890.8,0) rotate(90)" x="145.06" y="0.00" font-size="47" font-weight="bold">E</text>
<text transform="translate(1890.8,0) rotate(90)" x="188.66" y="0.00" font-size="47" font-weight="bold">(</text>
<text transform="translate(1890.8,0) rotate(90)" x="205.20" y="0.00" font-size="47" font-weight="bold">mmol</text>
<text transform="translate(1890.8,0) rotate(90)" x="342.90" y="0.00" font-size="47" font-weight="bold">m</text>
<text transform="translate(1890.8,0) rotate(90)" x="384.91" y="-19.70" font-size="33" font-weight="bold">-2</text>
<text transform="translate(1890.8,0) rotate(90)" x="425.35" y="0.00" font-size="47" font-weight="bold">s</text>
<text transform="translate(1890.8,0) rotate(90)" x="452.51" y="-19.70" font-size="33" font-weight="bold">-1</text>
<text transform="translate(1890.8,0) rotate(90)" x="483.35" y="0.00" font-size="47" font-weight="bold">)</text>
<text transform="translate(1908.6,0) rotate(90)" x="849.17" y="0.00" font-size="47" font-weight="bold">Chl a/b</text>
<text transform="translate(55.9,0) rotate(-90)" x="-504.37" y="0.00" font-size="47" font-weight="bold">A</text>
<text transform="translate(55.9,0) rotate(-90)" x="-469.11" y="13.20" font-size="32" font-weight="bold">max</text>
<text transform="translate(55.9,0) rotate(-90)" x="-391.14" y="0.00" font-size="47" font-weight="bold">(</text>
<text transform="translate(55.9,0) rotate(-90)" x="-375.70" y="0.00" font-size="47" font-weight="bold">μmol</text>
<text transform="translate(55.9,0) rotate(-90)" x="-250.20" y="0.00" font-size="47" font-weight="bold">m</text>
<text transform="translate(55.9,0) rotate(-90)" x="-207.89" y="-18.70" font-size="33" font-weight="bold">-2</text>
<text transform="translate(55.9,0) rotate(-90)" x="-167.85" y="0.00" font-size="47" font-weight="bold">s</text>
<text transform="translate(55.9,0) rotate(-90)" x="-141.09" y="-18.70" font-size="33" font-weight="bold">-1</text>
<text transform="translate(55.9,0) rotate(-90)" x="-110.25" y="0.00" font-size="47" font-weight="bold">)</text>
<text transform="translate(44.8,0) rotate(-90)" x="-1081.63" y="0.00" font-size="47" font-weight="bold">Gs</text>
<text transform="translate(44.8,0) rotate(-90)" x="-1005.34" y="0.00" font-size="47" font-weight="bold">(</text>
<text transform="translate(44.8,0) rotate(-90)" x="-990.00" y="0.00" font-size="47" font-weight="bold">mmol</text>
<text transform="translate(44.8,0) rotate(-90)" x="-851.10" y="0.00" font-size="47" font-weight="bold">m</text>
<text transform="translate(44.8,0) rotate(-90)" x="-809.89" y="-18.50" font-size="33" font-weight="bold">-2</text>
<text transform="translate(44.8,0) rotate(-90)" x="-768.75" y="0.00" font-size="47" font-weight="bold">s</text>
<text transform="translate(44.8,0) rotate(-90)" x="-741.69" y="-18.50" font-size="33" font-weight="bold">-1</text>
<text transform="translate(44.8,0) rotate(-90)" x="-711.55" y="0.00" font-size="47" font-weight="bold">)</text>
</g>
</svg></body></html>
